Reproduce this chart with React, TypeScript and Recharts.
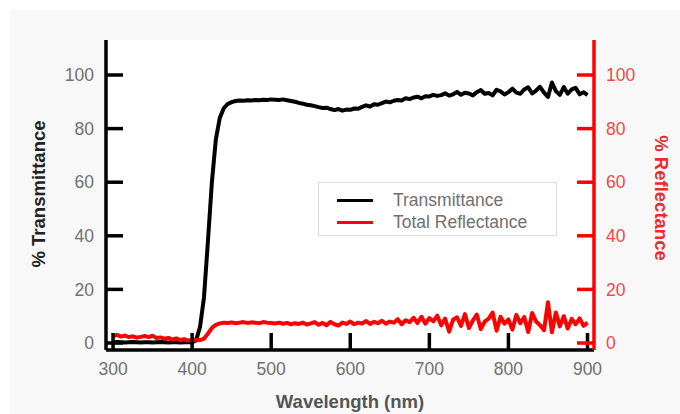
import React from 'react';
import { ComposedChart, Line, XAxis, YAxis, CartesianGrid, Legend, Label } from 'recharts';

const wavelengths = [
  300, 305, 310, 315, 320, 325, 330, 335, 340, 345, 350, 355, 360, 365, 370, 375, 380, 385, 390, 395, 400,
  405, 410, 415, 420, 425, 430, 435, 440, 445, 450, 455, 460, 465, 470, 475, 480, 485, 490, 495, 500,
  505, 510, 515, 520, 525, 530, 535, 540, 545, 550, 555, 560, 565, 570, 575, 580, 585, 590, 595, 600,
  605, 610, 615, 620, 625, 630, 635, 640, 645, 650, 655, 660, 665, 670, 675, 680, 685, 690, 695, 700,
  705, 710, 715, 720, 725, 730, 735, 740, 745, 750, 755, 760, 765, 770, 775, 780, 785, 790, 795, 800,
  805, 810, 815, 820, 825, 830, 835, 840, 845, 850, 855, 860, 865, 870, 875, 880, 885, 890, 895, 900,
];

const transmittance = [
  0.3, 0.4, 0.3, 0.2, 0.3, 0.4, 0.3, 0.2, 0.3, 0.3, 0.2, 0.3, 0.4, 0.3, 0.2, 0.3, 0.3, 0.2, 0.3, 0.4, 0.3,
  1.0, 6, 17, 38, 60, 76, 84, 87.6, 89.2, 89.9, 90.3, 90.5, 90.4, 90.6, 90.5, 90.7, 90.6, 90.8, 90.7, 90.9,
  90.8, 90.7, 90.9, 90.6, 90.3, 90.0, 89.6, 89.3, 88.9, 88.7, 88.4, 88.0, 87.7, 87.8, 87.3, 86.9, 87.3, 86.7, 87.1, 87.0,
  87.5, 87.4, 88.1, 88.7, 88.2, 89.1, 88.9, 89.5, 90.1, 89.8, 90.4, 90.7, 90.5, 91.3, 91.0, 91.6, 91.9, 91.3, 92.1, 92.0,
  92.6, 92.2, 92.5, 93.2, 92.3, 92.8, 93.7, 92.6, 93.4, 93.1, 92.4, 93.6, 94.4, 93.0, 93.3, 92.4, 94.5, 93.9, 92.7, 93.6,
  94.9, 93.4, 93.0, 94.6, 95.4, 93.1, 94.2, 95.6, 93.4, 91.8, 97.2, 94.0, 92.6, 95.5, 93.0, 94.6, 95.2, 92.8, 93.6, 92.5,
];

const reflectance = [
  2.6, 3.0, 2.4, 2.8, 2.2, 2.5, 2.0, 2.3, 2.6, 2.2, 2.7, 1.9, 2.1, 1.6, 1.9, 1.3, 1.7, 1.1, 1.4, 0.9, 1.2,
  1.0, 1.1, 1.6, 3.5, 5.6, 6.8, 7.3, 7.6, 7.5, 7.7, 7.4, 7.6, 7.8, 7.5, 7.7, 7.6, 7.4, 7.8, 7.6, 7.5,
  7.3, 7.6, 7.2, 7.5, 7.0, 7.4, 7.1, 7.6, 6.9, 7.3, 7.8, 6.8, 7.5, 6.6, 7.9, 7.0, 6.5, 7.6, 7.1, 8.0,
  7.0, 7.6, 7.3, 8.2, 7.1, 7.9, 7.4, 8.3, 7.2, 8.0, 7.6, 8.9, 7.0, 8.5, 7.8, 9.4, 7.5, 9.8, 7.2, 9.3,
  8.1, 10.2, 6.6, 9.1, 4.2, 8.7, 9.6, 6.4, 10.8, 5.6, 8.4, 10.6, 5.2, 8.0, 9.1, 11.3, 4.6, 9.8, 7.2, 8.8,
  5.0, 10.5, 7.4, 9.7, 4.1, 11.2, 8.0, 6.6, 4.8, 15.2, 4.0, 11.4, 6.2, 10.0, 5.4, 9.0, 7.0, 9.2, 6.4, 7.6,
];

const seriesNames = ['Transmittance', 'Total Reflectance'];
const xTicks = [300, 400, 500, 600, 700, 800, 900];
const topTicks = [300, 900];
const yTicks = [0, 20, 40, 60, 80, 100];

const data = wavelengths.map((wl, i) => ({ wl, t: transmittance[i], r: reflectance[i] }));

const FONT = '"Liberation Sans", Arial, sans-serif';
const X_DOMAIN: [number, number] = [291.1, 908.2];
const Y_DOMAIN: [number, number] = [-2.61, 113.06];
const AXIS_W = 3.5;
const LINE_W = 4;

const LegendBox = (props: any) => {
  const payload = [...(props.payload || [])].sort(
    (a: any, b: any) => seriesNames.indexOf(a.value) - seriesNames.indexOf(b.value)
  );
  return (
    <div
      style={{
        width: 239,
        height: 54,
        boxSizing: 'border-box',
        border: '1px solid #dcdcdc',
        background: '#fff',
        paddingTop: 6,
        fontFamily: FONT,
      }}
    >
      {payload.map((e: any) => (
        <div key={e.value} style={{ display: 'flex', alignItems: 'center', height: 22 }}>
          <span style={{ display: 'inline-block', width: 36, height: 3, background: e.color, marginLeft: 18 }} />
          <span style={{ marginLeft: 20, fontSize: 17.5, color: '#707070', lineHeight: '22px' }}>{e.value}</span>
        </div>
      ))}
    </div>
  );
};

export default function App() {
  return (
    <div
      style={{
        position: 'absolute',
        left: 10,
        top: 10,
        width: 670,
        height: 404,
        background: '#f8f8f8',
        fontFamily: FONT,
      }}
    >
      <ComposedChart
        width={670}
        height={404}
        data={data}
        margin={{ top: 30, right: 30, bottom: 20, left: 10 }}
      >
        <CartesianGrid fill="#ffffff" horizontal={false} vertical={false} />
        <XAxis
          xAxisId="bottom"
          dataKey="wl"
          type="number"
          domain={X_DOMAIN}
          allowDataOverflow
          ticks={xTicks}
          interval={0}
          height={44}
          tickSize={-17}
          tickMargin={30}
          axisLine={{ stroke: '#000', strokeWidth: AXIS_W }}
          tickLine={{ stroke: '#000', strokeWidth: AXIS_W }}
          tick={{ fill: '#707070', fontSize: 17.5, fontFamily: FONT }}
        >
          <Label
            content={(p: any) => {
              const vb = p.viewBox || {};
              return (
                <text
                  x={vb.x + vb.width / 2}
                  y={vb.y + 51}
                  textAnchor="middle"
                  dominantBaseline="central"
                  fontFamily={FONT}
                  fontSize={18.5}
                  fontWeight="bold"
                  fill="#555"
                >
                  Wavelength (nm)
                </text>
              );
            }}
          />
        </XAxis>
        <XAxis
          xAxisId="top"
          dataKey="wl"
          type="number"
          orientation="top"
          domain={X_DOMAIN}
          allowDataOverflow
          ticks={topTicks}
          interval={0}
          height={0}
          tickSize={-17}
          tick={false}
          axisLine={{ stroke: '#000', strokeWidth: AXIS_W }}
          tickLine={{ stroke: '#000', strokeWidth: AXIS_W }}
        />
        <YAxis
          yAxisId="left"
          type="number"
          domain={Y_DOMAIN}
          allowDataOverflow
          ticks={yTicks}
          interval={0}
          width={86}
          tickSize={-17}
          tickMargin={29}
          axisLine={{ stroke: '#000', strokeWidth: AXIS_W }}
          tickLine={{ stroke: '#000', strokeWidth: AXIS_W }}
          tick={{ fill: '#707070', fontSize: 17.5, fontFamily: FONT }}
        >
          <Label
            content={(p: any) => {
              const vb = p.viewBox || {};
              const cx = vb.x + vb.width - 68;
              const cy = vb.y + vb.height / 2 - 1;
              return (
                <text
                  x={cx}
                  y={cy}
                  transform={`rotate(-90 ${cx} ${cy})`}
                  textAnchor="middle"
                  dominantBaseline="central"
                  fontFamily={FONT}
                  fontSize={18.5}
                  fontWeight="bold"
                  fill="#222"
                >
                  % Transmittance
                </text>
              );
            }}
          />
        </YAxis>
        <YAxis
          yAxisId="right"
          orientation="right"
          type="number"
          domain={Y_DOMAIN}
          allowDataOverflow
          ticks={yTicks}
          interval={0}
          width={56}
          tickSize={-17}
          tickMargin={29}
          axisLine={{ stroke: '#ff0000', strokeWidth: AXIS_W }}
          tickLine={{ stroke: '#ff0000', strokeWidth: AXIS_W }}
          tick={{ fill: '#f04848', fontSize: 17.5, fontFamily: FONT }}
        >
          <Label
            content={(p: any) => {
              const vb = p.viewBox || {};
              const cx = vb.x + 67;
              const cy = vb.y + vb.height / 2 + 3;
              return (
                <text
                  x={cx}
                  y={cy}
                  transform={`rotate(90 ${cx} ${cy})`}
                  textAnchor="middle"
                  dominantBaseline="central"
                  fontFamily={FONT}
                  fontSize={18.5}
                  fontWeight="bold"
                  fill="#ec2a2a"
                >
                  % Reflectance
                </text>
              );
            }}
          />
        </YAxis>
        <Legend
          layout="vertical"
          verticalAlign="middle"
          align="center"
          content={<LegendBox />}
          wrapperStyle={{ position: 'absolute', left: 308, top: 172, width: 239, height: 54 }}
        />
        <Line
          xAxisId="bottom"
          yAxisId="left"
          dataKey="t"
          name="Transmittance"
          type="linear"
          stroke="#000000"
          strokeWidth={LINE_W}
          strokeLinejoin="round"
          dot={false}
          isAnimationActive={false}
        />
        <Line
          xAxisId="bottom"
          yAxisId="right"
          dataKey="r"
          name="Total Reflectance"
          type="linear"
          stroke="#ff0000"
          strokeWidth={LINE_W}
          strokeLinejoin="round"
          dot={false}
          isAnimationActive={false}
        />
      </ComposedChart>
    </div>
  );
}
